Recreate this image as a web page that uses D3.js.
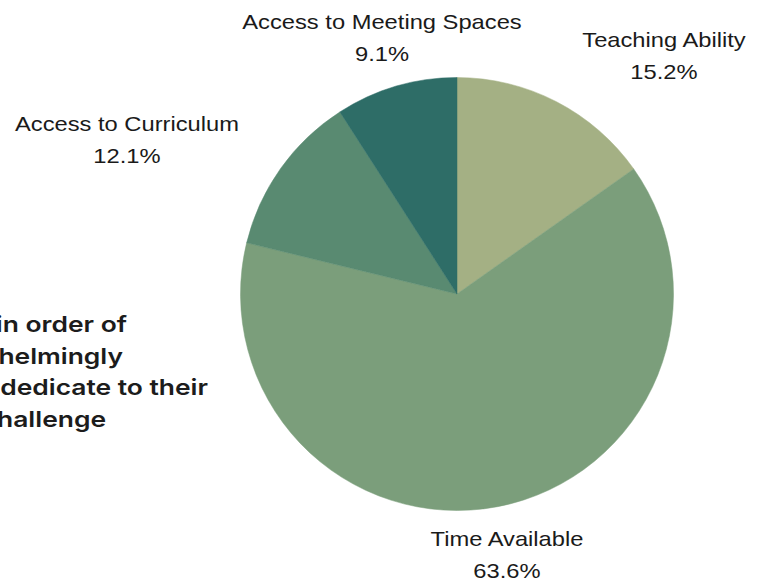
<!DOCTYPE html>
<html>
<head>
<meta charset="utf-8">
<script src="https://cdn.jsdelivr.net/npm/d3@7"></script>
<style>
  html, body { margin: 0; padding: 0; background: #ffffff; }
  svg { display: block; }
</style>
</head>
<body>
<svg id="chart" width="765" height="583"></svg>
<script>
// Biggest challenges for teachers, share of responses
const categories = ["Teaching Ability", "Time Available", "Access to Curriculum", "Access to Meeting Spaces"];
const values = [15.2, 63.6, 12.1, 9.1];
const sliceColors = ["#a4b084", "#7b9e7b", "#598a71", "#2e6d67"];
// Label anchor per slice (centre x, first baseline y)
const labelX = [664, 507, 127, 382];
const labelY = [47, 546, 131, 29];
// Side note, right-aligned lines that run off the left edge
const noteLines = ["in order of", "overwhelmingly", "dedicate to their", "challenge"];
const noteEndX = [127, 123, 208, 106];

const svg = d3.select("#chart");
const cx = 457, cy = 294, radius = 216.5;

const pie = d3.pie().sort(null).value(d => d.value);
const arc = d3.arc().innerRadius(0).outerRadius(radius);
const data = categories.map((c, i) => ({ name: c, value: values[i] }));

const color = d3.scaleOrdinal().domain(categories).range(sliceColors);

svg.append("g")
  .attr("transform", `translate(${cx},${cy})`)
  .selectAll("path")
  .data(pie(data))
  .join("path")
  .attr("d", arc)
  .attr("fill", d => color(d.data.name))
  .attr("stroke", d => color(d.data.name))
  .attr("stroke-width", 0.5);

// Category labels with percentage beneath
const fmt = d3.format(".1f");
const labels = svg.append("g")
  .attr("font-family", "'Liberation Sans', Arial, sans-serif")
  .attr("font-size", 21)
  .attr("fill", "#1a1a1a")
  .attr("text-anchor", "middle");

data.forEach((d, i) => {
  const g = labels.append("g")
    .attr("transform", `translate(${labelX[i]},${labelY[i]}) scale(1.13,1)`);
  g.append("text").attr("x", 0).attr("y", 0).text(d.name);
  g.append("text").attr("x", 0).attr("y", 32).text(fmt(d.value) + "%");
});

// Side note text
svg.append("g")
  .attr("font-family", "Inter, 'Noto Sans', sans-serif")
  .attr("font-weight", 600)
  .attr("font-size", 22)
  .attr("fill", "#1c1c1c")
  .attr("text-anchor", "end")
  .selectAll("g")
  .data(noteLines)
  .join("g")
  .attr("transform", (d, i) => `translate(${noteEndX[i]},${332 + i * 31.5}) scale(1.2,1)`)
  .append("text")
  .attr("x", 0)
  .attr("y", 0)
  .text(d => d);
</script>
</body>
</html>
